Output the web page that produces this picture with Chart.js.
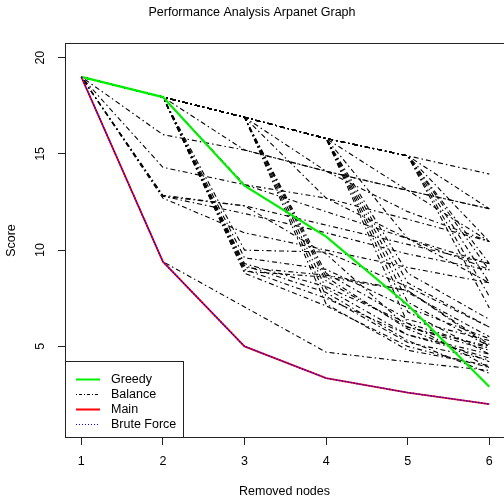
<!DOCTYPE html>
<html lang="en">
<head>
<meta charset="UTF-8">
<title>Performance Analysis Arpanet Graph</title>
<script src="https://cdn.jsdelivr.net/npm/chart.js"></script>
<style>
  body { margin: 0; background: #fff; }
  canvas { display: block; }
</style>
</head>
<body>
<canvas id="scoreChart" width="504" height="499"></canvas>
<script>
// x values and tick labels
const removedNodes = [1, 2, 3, 4, 5, 6];
const scoreTicks = [5, 10, 15, 20];

const greedy     = [19, 17.95, 13.35, 10.7, 7.15, 2.9];
const mainScores = [19, 9.4, 5.0, 3.35, 2.6, 2.0];
const bruteForce = [19, 9.4, 5.0, 3.35, 2.6, 2.0];

// every path of the balance runs (estimated, many overlap)
const balance = [
  [19, 17.95, 16.9, 15.8, 14.9, 13.95],
  [19, 16.0, 15.2, 14.1, 13.1, 12.15],
  [19, 14.3, 13.4, 12.7, 11.6, 10.45],
  [19, 12.85, 12.3, 11.3, 10.3, 9.3],
  [19, 12.8, 11.9, 10.9, 9.8, 8.95],
  [19, 12.7, 10.9, 10.0, 9.1, 8.3],
  [19, 12.8, 12.3, 9.8, 6.0, 4.8],
  [19, 9.4, 7.05, 4.7, 4.2, 3.75],
  [19, 17.95, 15.2, 14.1, 12.0, 10.45],
  [19, 17.95, 13.4, 12.0, 10.6, 9.0],
  [19, 17.95, 10.0, 9.9, 8.1, 6.0],
  [19, 17.95, 9.6, 9.0, 7.0, 5.4],
  [19, 17.95, 9.3, 8.1, 6.2, 4.9],
  [19, 17.95, 9.2, 7.8, 5.3, 3.6],
  [19, 17.95, 9.0, 7.5, 5.6, 4.4],
  [19, 17.95, 8.8, 7.1, 5.0, 3.9],
  [19, 17.95, 9.1, 8.7, 7.9, 5.0],
  [19, 17.95, 8.9, 8.6, 7.9, 5.1],
  [19, 17.95, 16.9, 14.1, 13.1, 12.15],
  [19, 17.95, 16.9, 12.7, 10.6, 9.3],
  [19, 17.95, 16.9, 8.8, 6.4, 5.3],
  [19, 17.95, 16.9, 8.6, 5.9, 4.2],
  [19, 17.95, 16.9, 8.4, 6.0, 5.0],
  [19, 17.95, 16.9, 8.0, 5.6, 4.6],
  [19, 17.95, 16.9, 7.6, 5.2, 4.3],
  [19, 17.95, 16.9, 7.2, 4.8, 4.0],
  [19, 17.95, 16.9, 15.8, 13.1, 10.45],
  [19, 17.95, 16.9, 15.8, 10.6, 8.3],
  [19, 17.95, 16.9, 15.8, 8.8, 6.4],
  [19, 17.95, 16.9, 15.8, 8.3, 6.0],
  [19, 17.95, 16.9, 15.8, 7.8, 5.5],
  [19, 17.95, 16.9, 15.8, 7.3, 5.0],
  [19, 17.95, 16.9, 15.8, 6.8, 4.6],
  [19, 17.95, 16.9, 15.8, 6.2, 3.9],
  [19, 17.95, 16.9, 15.8, 14.9, 12.15],
  [19, 17.95, 16.9, 15.8, 14.9, 10.45],
  [19, 17.95, 16.9, 15.8, 14.9, 9.3],
  [19, 17.95, 16.9, 15.8, 14.9, 8.95],
  [19, 17.95, 16.9, 15.8, 14.9, 8.3],
  [19, 17.95, 16.9, 15.8, 14.9, 7.6],
  [19, 17.95, 16.9, 15.8, 14.9, 7.0]
];

const legendLabels = ['Greedy', 'Balance', 'Main', 'Brute Force'];

const FONT = "'Liberation Sans', Arial, Helvetica, sans-serif";
Chart.defaults.font.family = FONT;
Chart.defaults.font.size = 12.5;
Chart.defaults.color = '#000';

function toPoints(values) {
  return values.map((v, i) => ({ x: removedNodes[i], y: v }));
}

const greedyStyle  = { borderColor: '#00ee00', borderWidth: 2.2, borderDash: [] };
const balanceStyle = { borderColor: '#000000', borderWidth: 1.1, borderDash: [1.5, 3, 5, 3] };
const mainStyle    = { borderColor: '#ff0000', borderWidth: 1.8, borderDash: [] };
const bruteStyle   = { borderColor: '#0000ff', borderWidth: 1.3, borderDash: [1.5, 1.5] };

const datasets = [];
balance.forEach(path => {
  datasets.push(Object.assign({ label: 'Balance', data: toPoints(path), order: 3 }, balanceStyle));
});
datasets.push(Object.assign({ label: 'Greedy', data: toPoints(greedy), order: 2 }, greedyStyle));
datasets.push(Object.assign({ label: 'Main', data: toPoints(mainScores), order: 1 }, mainStyle));
datasets.push(Object.assign({ label: 'Brute Force', data: toPoints(bruteForce), order: 0 }, bruteStyle));

// plot frame + legend box in the bottom left corner
const frameAndLegend = {
  id: 'frameAndLegend',
  afterDraw(chart) {
    const { ctx, chartArea: a } = chart;
    ctx.save();
    ctx.strokeStyle = '#222';
    ctx.lineWidth = 1;
    ctx.setLineDash([]);
    ctx.strokeRect(a.left + 0.5, a.top + 0.5, a.right - a.left, a.bottom - a.top - 1);

    const styles = [greedyStyle, balanceStyle, mainStyle, bruteStyle];
    const bx = a.left + 0.5, bw = 118, bh = 76;
    const by = a.bottom - bh - 0.5;
    ctx.fillStyle = '#fff';
    ctx.fillRect(bx, by, bw, bh);
    ctx.strokeRect(bx, by, bw, bh);

    ctx.font = '12.5px ' + FONT;
    ctx.textBaseline = 'middle';
    ctx.textAlign = 'left';
    legendLabels.forEach((txt, i) => {
      const y = Math.round(by + 17 + i * 15) + 0.5;
      const s = styles[i];
      ctx.beginPath();
      ctx.strokeStyle = s.borderColor;
      ctx.lineWidth = Math.max(1, Math.round(s.borderWidth));
      ctx.setLineDash(s.borderDash.length ? [1, 2] : []);
      if (i === 1) ctx.setLineDash([1, 2, 3, 2]);
      ctx.moveTo(a.left + 11, y);
      ctx.lineTo(a.left + 35, y);
      ctx.stroke();
      ctx.fillStyle = '#000';
      ctx.fillText(txt, a.left + 46, y);
    });
    ctx.restore();
  }
};

new Chart(document.getElementById('scoreChart'), {
  type: 'line',
  data: { datasets: datasets },
  options: {
    responsive: false,
    animation: false,
    layout: { padding: 0 },
    elements: { point: { radius: 0 }, line: { tension: 0 } },
    plugins: {
      legend: { display: false },
      tooltip: { enabled: false },
      title: {
        display: true,
        text: 'Performance Analysis Arpanet Graph',
        font: { size: 12.5, weight: 'normal' },
        padding: { top: 5, bottom: 23 }
      }
    },
    scales: {
      x: {
        type: 'linear',
        min: 0.8,
        max: 6.18,
        afterBuildTicks: s => { s.ticks = removedNodes.map(v => ({ value: v })); },
        afterFit: s => { s.height = 61; },
        ticks: { padding: 9, maxRotation: 0 },
        grid: { drawOnChartArea: false, drawTicks: true, tickLength: 7, color: '#222' },
        border: { display: false },
        title: { display: true, text: 'Removed nodes', padding: { top: 0, bottom: 0 } }
      },
      y: {
        type: 'linear',
        min: 0.24,
        max: 20.76,
        afterBuildTicks: s => { s.ticks = scoreTicks.map(v => ({ value: v })); },
        afterFit: s => { s.width = 65; },
        ticks: { padding: 11, minRotation: 90, maxRotation: 90, crossAlign: 'center' },
        grid: { drawOnChartArea: false, drawTicks: true, tickLength: 7, color: '#222' },
        border: { display: false },
        title: { display: true, text: 'Score', padding: { top: 4.5, bottom: 0 } }
      }
    }
  },
  plugins: [frameAndLegend]
});
</script>
</body>
</html>
